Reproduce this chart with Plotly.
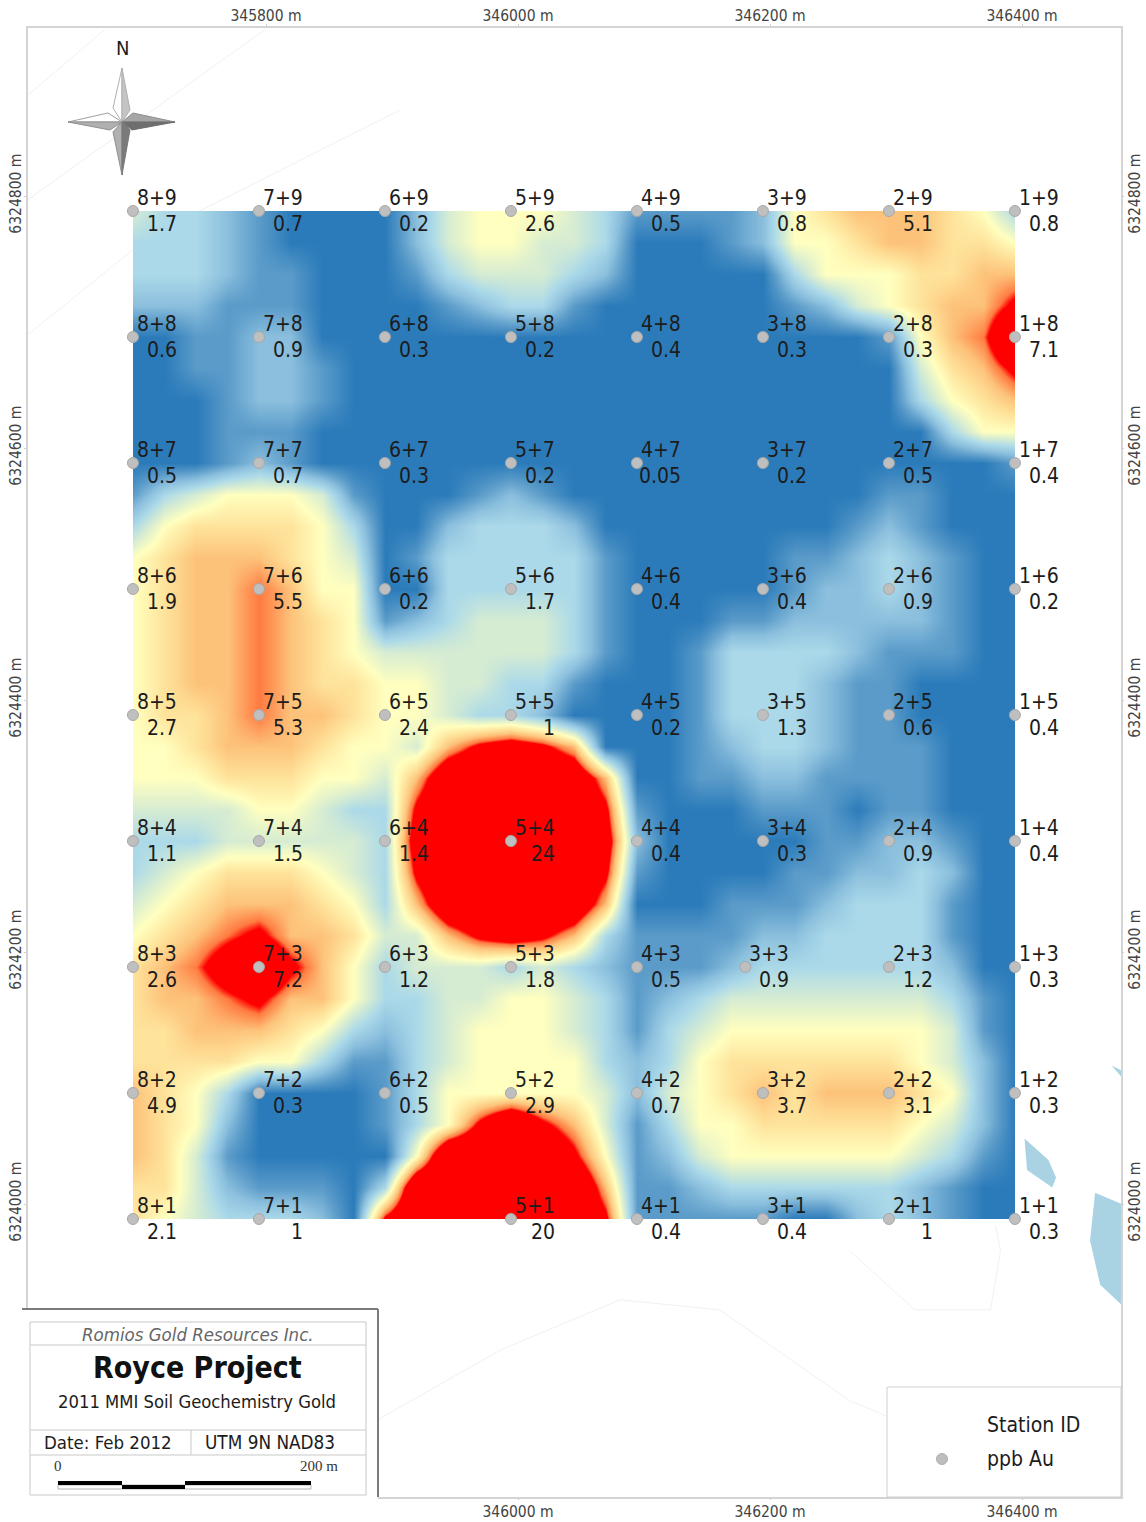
import plotly.graph_objects as go

FONT = "DejaVu Sans Condensed, DejaVu Sans"
SERIF = "Liberation Serif"

# Axis ticks
x_top_ticks = [345800, 346000, 346200, 346400]
x_bottom_ticks = [346000, 346200, 346400]
y_ticks = [6324000, 6324200, 6324400, 6324600, 6324800]

# Stations: lines 8..1 (west to east), stations 9..1 (north to south)
line_ids = [8, 7, 6, 5, 4, 3, 2, 1]
station_ids = [9, 8, 7, 6, 5, 4, 3, 2, 1]
line_easting = [345694.4, 345794.4, 345894.4, 345994.4, 346094.4, 346194.4, 346294.4, 346394.4]
station_northing = [6324788.1, 6324688.1, 6324588.1, 6324488.1, 6324388.1, 6324288.1, 6324188.1, 6324088.1, 6323988.1]

# ppb Au, row = station 9..1, column = line 8..1 (empty = no station drawn)
ppb_au = [
    ["1.7", "0.7", "0.2", "2.6", "0.5", "0.8", "5.1", "0.8"],
    ["0.6", "0.9", "0.3", "0.2", "0.4", "0.3", "0.3", "7.1"],
    ["0.5", "0.7", "0.3", "0.2", "0.05", "0.2", "0.5", "0.4"],
    ["1.9", "5.5", "0.2", "1.7", "0.4", "0.4", "0.9", "0.2"],
    ["2.7", "5.3", "2.4", "1", "0.2", "1.3", "0.6", "0.4"],
    ["1.1", "1.5", "1.4", "24", "0.4", "0.3", "0.9", "0.4"],
    ["2.6", "7.2", "1.2", "1.8", "0.5", "0.9", "1.2", "0.3"],
    ["4.9", "0.3", "0.5", "2.9", "0.7", "3.7", "3.1", "0.3"],
    ["2.1", "1", "", "20", "0.4", "0.4", "1", "0.3"],
]
station_33_offset_m = -14  # station 3+3 sits a little west of its line

# Colour level (hex digit, 0 blue .. 8 orange .. C red),
# on a 25 m raster, north row first, west column first
raster_rows = [
    "433210000 2455543 1111 256777653",
    "333210000 2455443 0001 255677665",
    "333211000 1344432 0000 035556677",
    "222111000 0123310 0000 012456779",
    "001122000 0000000 0000 00001578C",
    "001122100 0000000 0000 000004679",
    "000122100 0000000 0000 000003567",
    "000111000 0000000 0000 000000355",
    "000121000 0000000 0000 000000001",
    "134555410 0012100 0000 000011000",
    "356666530 0233320 0000 000121000",
    "567776540 1333331 0000 011232100",
    "567787550 0333331 0000 012232100",
    "567787651 2344431 0001 122222100",
    "567787654 4444431 0013 333211100",
    "567787665 5443310 0013 332110000",
    "566787765 5433200 0013 332110000",
    "556777655 479A970 0012 332111000",
    "555666554 7BCCCB7 0011 221111000",
    "444455433 9CCCCC9 1000 111011000",
    "333444443 ACCCCCA 2000 001122100",
    "345666543 9CCCCC9 1000 011223200",
    "456777653 7BCCCB7 0001 112333100",
    "567897764 479A973 1111 223333100",
    "678AC9753 4443432 1112 333333200",
    "677897753 3445543 1234 444444310",
    "667776532 3455543 1345 555555410",
    "666655311 3455553 2356 666665420",
    "765300001 3555554 2456 767776520",
    "765200001 359C974 1355 666665420",
    "764100000 5CCCC95 1245 555554310",
    "664211103 CCCCCC7 1123 333332100",
    "654333209 CCCCCC9 1111 100232100",
]
level_colors = [
    [0, "#2b7bba"], [1, "#5a9bc9"], [2, "#8bbfdd"], [3, "#abd9e9"], [4, "#d6ecd2"],
    [5, "#ffffbf"], [6, "#fee39b"], [7, "#fdc27a"], [8, "#ff7a40"], [8.5, "#ff0000"], [12, "#ff0000"],
]

# Pale background features (UTM metres)
water_polys = [
    ([346402, 346421, 346427, 346424, 346404], [6324052, 6324035, 6324021, 6324013, 6324027]),
    ([346458, 346479, 346479, 346462, 346454], [6324009, 6324000, 6323920, 6323936, 6323971]),
    ([346471, 346479, 346479], [6324110, 6324106, 6324101]),
]
contour_lines = [
    ([345611, 345672], [6324880, 6324932]),
    ([345611, 345799], [6324797, 6324932]),
    ([345611, 345694], [6324690, 6324757]),
    ([345747, 345906], [6324788, 6324868]),
    ([345889, 345986, 346081, 346160, 346263, 346299], [6323829, 6323884, 6323924, 6323916, 6323844, 6323829]),
    ([346263, 346315, 346375, 346383, 346379], [6323963, 6323916, 6323916, 6323963, 6323983]),
]

# Page geometry (pixels)
W, H = 1146, 1522
L, T, R, B = 28, 28, 1121, 1497
MAP_L, MAP_R, MAP_T, MAP_B = 133, 1015, 211, 1219
PX_PER_M = 1.26
x_range = [345800 + (L - 266) / PX_PER_M, 345800 + (R - 266) / PX_PER_M]
y_range = [6324800 - (B - 196) / PX_PER_M, 6324800 - (T - 196) / PX_PER_M]


def px(x):
    return (x - L) / (R - L)


def py(y):
    return 1 - (y - T) / (B - T)


def path(points):
    return "M " + " L ".join(f"{px(a):.5f},{py(b):.5f}" for a, b in points) + " Z"


z = [[int(c, 16) for c in row.replace(" ", "")] for row in raster_rows][::-1]
top = max(c[0] for c in level_colors)
colorscale = [[c[0] / top, c[1]] for c in level_colors]

fig = go.Figure()

for xs, ys in contour_lines:
    fig.add_trace(go.Scatter(x=xs, y=ys, mode="lines", line=dict(color="#f1f1f1", width=1), hoverinfo="skip", showlegend=False))
for xs, ys in water_polys:
    fig.add_trace(go.Scatter(x=xs, y=ys, mode="lines", fill="toself", fillcolor="#a9d3e3", line=dict(width=0), hoverinfo="skip", showlegend=False))

fig.add_trace(go.Heatmap(
    z=z, x0=line_easting[0], dx=25, y0=station_northing[-1], dy=25,
    colorscale=colorscale, zmin=0, zmax=top, zsmooth="best", showscale=False,
    xaxis="x3", yaxis="y3", hoverinfo="skip",
))

sx, sy = [], []
annotations = []
for r, sid in enumerate(station_ids):
    for c, lid in enumerate(line_ids):
        value = ppb_au[r][c]
        if not value:
            continue
        e = line_easting[c] + (station_33_offset_m if (lid, sid) == (3, 3) else 0)
        n = station_northing[r]
        sx.append(e)
        sy.append(n)
        annotations.append(dict(x=e, y=n, xref="x", yref="y", text=f"{lid}+{sid}", showarrow=False,
                                xanchor="right", yanchor="middle", xshift=46, yshift=13,
                                font=dict(family=FONT, size=21, color="#1c1c1c")))
        annotations.append(dict(x=e, y=n, xref="x", yref="y", text=value, showarrow=False,
                                xanchor="right", yanchor="middle", xshift=46, yshift=-13,
                                font=dict(family=FONT, size=21, color="#1c1c1c")))

# Stations sit on their own later subplot so they stay above the map raster
fig.add_trace(go.Scatter(
    x=sx, y=sy, mode="markers", xaxis="x4", yaxis="y4", showlegend=False, hoverinfo="skip",
    marker=dict(size=11, color="#bfbfbf", line=dict(color="#a8a8a8", width=1)),
))
# Keeps the bottom and right axes drawn
fig.add_trace(go.Scatter(x=[], y=[], xaxis="x2", yaxis="y2", showlegend=False, hoverinfo="skip"))


def note(x, y, text, size, color="#1c1c1c", anchor="center", family=FONT, **kw):
    annotations.append(dict(x=px(x), y=py(y), xref="paper", yref="paper", text=text, showarrow=False,
                            xanchor=anchor, yanchor="middle",
                            font=dict(family=family, size=size, color=color), **kw))


note(122, 48, "N", 20)
note(198, 1334, "<i>Romios Gold Resources Inc.</i>", 18.5, color="#666666")
note(197, 1367, "<b>Royce Project</b>", 30, color="#111111")
note(197, 1401, "2011 MMI Soil Geochemistry Gold", 18.3)
note(108, 1442, "Date: Feb 2012", 18.5)
note(270, 1442, "UTM 9N NAD83", 18.8)
note(58, 1466, "0", 15, color="#333333", family=SERIF)
note(319, 1466, "200 m", 15, color="#333333", family=SERIF)
note(985, 1425, "Station ID", 21, anchor="left")
note(985, 1459, "ppb Au", 21, anchor="left")

shapes = []


def rect(x0, y0, x1, y1, fill="white", line=None, width=1):
    shapes.append(dict(type="rect", xref="paper", yref="paper", x0=px(x0), x1=px(x1), y0=py(y1), y1=py(y0),
                       fillcolor=fill, line=dict(color=line or fill, width=width if line else 0), layer="above"))


def seg(x0, y0, x1, y1, color, width=1):
    shapes.append(dict(type="line", xref="paper", yref="paper", x0=px(x0), x1=px(x1), y0=py(y0), y1=py(y1),
                       line=dict(color=color, width=width), layer="above"))


def poly(points, fill, line="rgba(0,0,0,0)"):
    shapes.append(dict(type="path", xref="paper", yref="paper", path=path(points), fillcolor=fill,
                       line=dict(color=line, width=1), layer="above"))


# Title block
rect(20, 1309, 378, 1500)
seg(22, 1309, 378, 1309, "#7c7c7c", 2)
seg(378, 1309, 378, 1497, "#7c7c7c", 2)
rect(30, 1322, 366, 1495, fill="white", line="#c9c9c9", width=1)
seg(30, 1345, 366, 1345, "#c9c9c9")
seg(30, 1430, 366, 1430, "#c9c9c9")
seg(30, 1455, 366, 1455, "#c9c9c9")
seg(191, 1430, 191, 1455, "#c9c9c9")
# Scale bar
rect(58, 1485, 311, 1489, fill="white", line="#b5b5b5", width=1)
rect(58, 1481, 122, 1485, fill="black")
rect(122, 1485, 185, 1489, fill="black")
rect(185, 1481, 311, 1485, fill="black")

# Legend box
rect(887, 1387, 1121, 1497, fill="white", line="#cfcfcf", width=1)
shapes.append(dict(type="circle", xref="paper", yref="paper", x0=px(936.5), x1=px(947.5), y0=py(1464.5), y1=py(1453.5),
                   fillcolor="#bdbdbd", line=dict(color="#b0b0b0", width=1), layer="above"))

# North arrow
C = (122, 122)
poly([(122, 68), C, (113, 108)], "#ffffff", "#b0b0b0")
poly([(122, 68), (130, 110), C], "#c4c4c4", "#b0b0b0")
poly([(175, 122), (133, 113), C], "#a6a6a6", "#909090")
poly([(175, 122), C, (132, 130)], "#6e6e6e", "#6e6e6e")
poly([(122, 175), C, (113, 132)], "#b0b0b0", "#909090")
poly([(122, 175), (130, 130), C], "#7a7a7a", "#7a7a7a")
poly([(68, 122), (108, 113), C], "#ffffff", "#a0a0a0")
poly([(68, 122), C, (110, 130)], "#b0b0b0", "#909090")

tickfont = dict(family=FONT, size=15.5, color="#444444")
common = dict(ticks="outside", ticklen=2, tickcolor="#cccccc", showgrid=False, zeroline=False, fixedrange=True,
              tickfont=tickfont, tickmode="array", automargin=False)


def labels(vals):
    return [f"{v} m" for v in vals]


fig.update_layout(
    width=W, height=H, autosize=False, margin=dict(l=L, t=T, r=W - R, b=H - B, pad=0, autoexpand=False),
    paper_bgcolor="white", plot_bgcolor="rgba(0,0,0,0)", showlegend=False,
    annotations=annotations, shapes=shapes,
    font=dict(family=FONT),
    xaxis=dict(range=x_range, side="top", tickvals=x_top_ticks, ticktext=labels(x_top_ticks), showline=True, mirror=True,
               linecolor="#d4d4d4", linewidth=2, ticklabelstandoff=-3, **common),
    yaxis=dict(range=y_range, side="left", tickvals=y_ticks, ticktext=labels(y_ticks), tickangle=-90, showline=True, mirror=True,
               linecolor="#d4d4d4", linewidth=2, ticklabelstandoff=-3, **common),
    xaxis2=dict(range=x_range, side="bottom", overlaying="x", anchor="y2", tickvals=x_bottom_ticks, ticktext=labels(x_bottom_ticks), ticklabelstandoff=-2, **common),
    yaxis2=dict(range=y_range, side="right", overlaying="y", anchor="x2", tickvals=y_ticks, ticktext=labels(y_ticks), tickangle=-90, ticklabelstandoff=-3, **common),
    xaxis3=dict(domain=[px(MAP_L), px(MAP_R)], range=[line_easting[0], line_easting[-1]], anchor="y3", visible=False, fixedrange=True),
    yaxis3=dict(domain=[py(MAP_B), py(MAP_T)], range=[station_northing[-1], station_northing[0]], anchor="x3", visible=False, fixedrange=True),
    xaxis4=dict(domain=[0, 1], range=x_range, anchor="y4", visible=False, fixedrange=True),
    yaxis4=dict(domain=[0, 1], range=y_range, anchor="x4", visible=False, fixedrange=True),
)

fig.write_html("out.html", config=dict(displayModeBar=False), post_script="document.body.style.margin='0';")
